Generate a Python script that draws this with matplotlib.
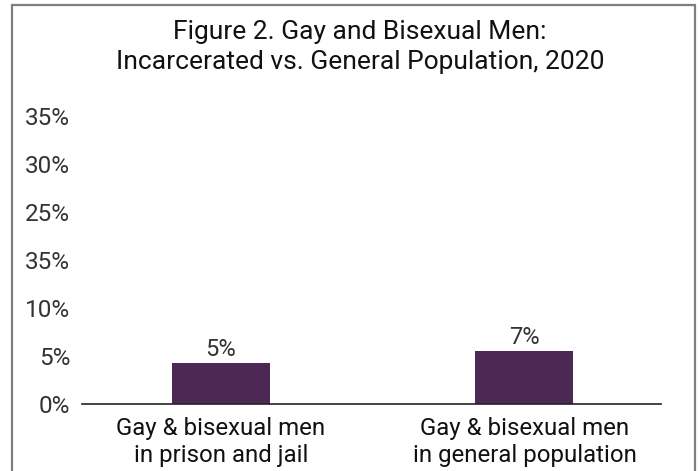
import matplotlib
matplotlib.use("Agg")
import matplotlib.pyplot as plt
from matplotlib.patches import Rectangle

plt.rcParams['font.family'] = ['Roboto', 'DejaVu Sans']

categories = ["Gay & bisexual men\nin prison and jail", "Gay & bisexual men\nin general population"]
values = [4.27, 5.5]
value_labels = ["5%", "7%"]
tick_values = [0, 5, 10, 15, 20, 25, 30]
tick_labels = ["0%", "5%", "10%", "35%", "25%", "30%", "35%"]
title = "Figure 2. Gay and Bisexual Men:\nIncarcerated vs. General Population, 2020"

W, H = 699, 471
fig = plt.figure(figsize=(W / 100, H / 100), dpi=100)
ax = fig.add_axes([82 / W, 1 - 404 / H, (661 - 82) / W, (404 - 116) / H])

x = list(range(len(categories)))
bars = ax.bar(x, values, width=0.323, color="#4E2854", edgecolor="none", zorder=2)
for xi, v, lab in zip(x, values, value_labels):
    ax.text(xi, v + 0.2, lab, ha="center", va="bottom", fontsize=17, color="#333333")

ax.set_xlim(-0.458, 1.45)
ax.set_ylim(0, 30)
ax.set_yticks(tick_values)
ax.set_yticklabels(tick_labels, fontsize=17.5, color="#333333")
ax.set_xticks(x)
ax.set_xticklabels(categories, fontsize=17.3, color="#111111", linespacing=1.25)
ax.tick_params(axis="y", length=0, pad=8.5)
ax.tick_params(axis="x", length=0, pad=9)
for s in ["top", "right", "left"]:
    ax.spines[s].set_visible(False)
ax.spines["bottom"].set_color("#222222")
ax.spines["bottom"].set_linewidth(1.2)

fig.text(360 / W, 1 - 20 / H, title, ha="center", va="top", fontsize=19, color="#111111",
         linespacing=1.3)

frame = Rectangle((12 / W, -0.05), (695 - 12) / W, 1 - 5 / H + 0.05, transform=fig.transFigure,
                  fill=False, edgecolor="#7f7f7f", linewidth=1.6)
fig.patches.append(frame)

fig.savefig("out.png", dpi=100)
